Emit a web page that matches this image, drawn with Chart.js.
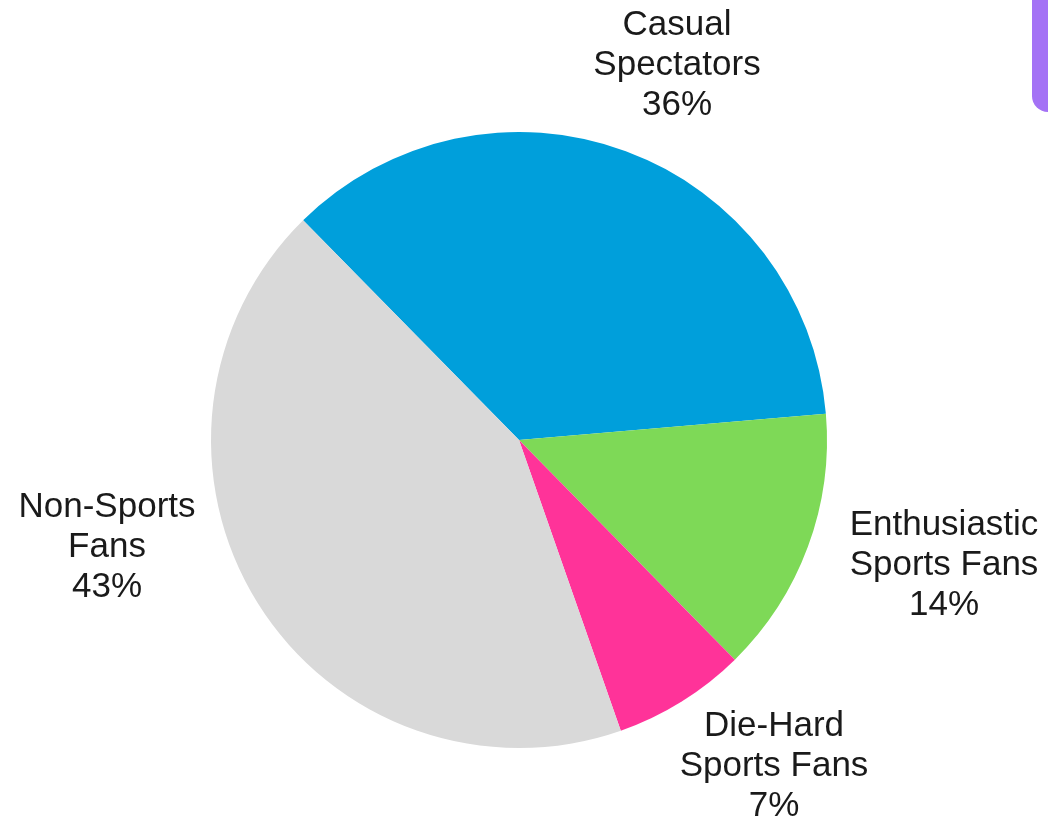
<!DOCTYPE html>
<html>
<head>
<meta charset="utf-8">
<script src="https://cdn.jsdelivr.net/npm/chart.js@4.4.1/dist/chart.umd.min.js"></script>
<style>
    html, body { margin: 0; padding: 0; background: #ffffff; }
    #wrap { position: relative; width: 1048px; height: 822px; overflow: hidden; }
    #badge {
        position: absolute; left: 1032px; top: -20px; width: 60px; height: 132px;
        background: #a472f5; border-radius: 16px;
    }
</style>
</head>
<body>
<div id="wrap">
    <canvas id="fanChart" width="1048" height="822"></canvas>
    <div id="badge"></div>
</div>
<script>
"use strict";

// segment data, in drawing order (clockwise from the blue slice)
var categories = [
    ['Casual', 'Spectators'],
    ['Enthusiastic', 'Sports Fans'],
    ['Die-Hard', 'Sports Fans'],
    ['Non-Sports', 'Fans']
];
var shares = [36, 14, 7, 43];
var sliceColors = ['#009fdb', '#7ed957', '#ff3399', '#d9d9d9'];

// where each label block sits, as offset from the pie centre (px)
var labelOffsets = [
    { dx: 158, dy: -415 },
    { dx: 425, dy: 85 },
    { dx: 255, dy: 286 },
    { dx: -412, dy: 67 }
];

var outsideLabels = {
    id: 'outsideLabels',
    afterDatasetsDraw: function (chart) {
        var ctx = chart.ctx;
        var arcs = chart.getDatasetMeta(0).data;
        ctx.save();
        ctx.font = '35px "Liberation Sans", Arial, sans-serif';
        ctx.fillStyle = '#1a1a1a';
        ctx.textAlign = 'center';
        ctx.textBaseline = 'middle';
        arcs.forEach(function (arc, i) {
            var lines = categories[i].concat([shares[i] + '%']);
            var x = arc.x + labelOffsets[i].dx;
            var y = arc.y + labelOffsets[i].dy;
            lines.forEach(function (line, j) {
                ctx.fillText(line, x, y + j * 40);
            });
        });
        ctx.restore();
    }
};

var ctx = document.getElementById('fanChart').getContext('2d');
new Chart(ctx, {
    type: 'pie',
    data: {
        labels: categories.map(function (c) { return c.join(' '); }),
        datasets: [{
            data: shares,
            backgroundColor: sliceColors,
            borderWidth: 0
        }]
    },
    options: {
        responsive: false,
        animation: false,
        rotation: -44.5,
        layout: {
            padding: { left: 211, right: 221, top: 132, bottom: 74 }
        },
        plugins: {
            legend: { display: false },
            tooltip: { enabled: false }
        }
    },
    plugins: [outsideLabels]
});
</script>
</body>
</html>
